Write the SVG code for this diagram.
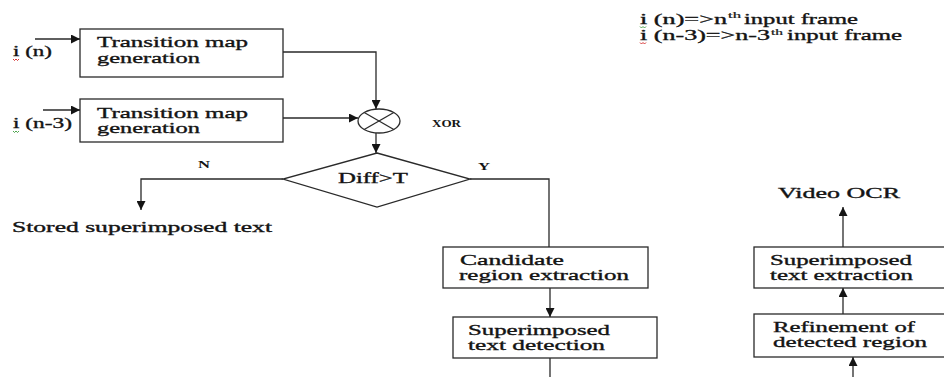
<svg xmlns="http://www.w3.org/2000/svg" width="944" height="377" viewBox="0 0 944 377">
<style>
text{font-family:'Liberation Serif','Times New Roman',Times,serif;fill:#141414;stroke:#141414;stroke-width:0.35;}
.t{font-size:15px;}
.s{font-size:11px;font-weight:bold;stroke-width:0;}
.sup{font-size:9px;stroke-width:0.2;}
.box{fill:#fff;stroke:#2a2a2a;stroke-width:1.3;}
.ln{fill:none;stroke:#2a2a2a;stroke-width:1.3;}
.sq{fill:none;stroke-width:0.9;}
</style>
<defs>
<marker id="ah" viewBox="0 0 10 10" refX="10" refY="5" markerWidth="9" markerHeight="9" markerUnits="userSpaceOnUse" orient="auto">
<path d="M0,0 L10,5 L0,10 Z" fill="#141414"/>
</marker>
</defs>
<rect width="944" height="377" fill="#fff"/>

<g id="legend">
<text class="t" x="640" y="24" textLength="87" lengthAdjust="spacingAndGlyphs">i (n)=&gt;n</text>
<text class="sup" x="728" y="18" textLength="13" lengthAdjust="spacingAndGlyphs">th</text>
<text class="t" x="744" y="24" textLength="114" lengthAdjust="spacingAndGlyphs">input frame</text>
<text class="t" x="640" y="40" textLength="130" lengthAdjust="spacingAndGlyphs">i (n-3)=&gt;n-3</text>
<text class="sup" x="771" y="35" textLength="12" lengthAdjust="spacingAndGlyphs">th</text>
<text class="t" x="787" y="40" textLength="115" lengthAdjust="spacingAndGlyphs">input frame</text>
<path class="sq" stroke="#3a9a3a" d="M640,26.5 l1.5,1.5 l1.5,-1.5 l1.5,1.5 l1.5,-1.5"/>
<path class="sq" stroke="#d02020" d="M640,42.5 l1.5,1.5 l1.5,-1.5 l1.5,1.5 l1.5,-1.5"/>
</g>

<g id="in1">
<text class="t" x="13" y="56" textLength="39" lengthAdjust="spacingAndGlyphs">i (n)</text>
<path class="sq" stroke="#d02020" d="M13,59 l1.5,1.5 l1.5,-1.5 l1.5,1.5 l1.5,-1.5"/>
</g>
<g id="in2">
<text class="t" x="13" y="128" textLength="59" lengthAdjust="spacingAndGlyphs">i (n-3)</text>
<path class="sq" stroke="#3a9a3a" d="M13,131 l1.5,1.5 l1.5,-1.5 l1.5,1.5 l1.5,-1.5"/>
</g>

<g id="tm1">
<rect class="box" x="80" y="29" width="203" height="48"/>
<text class="t" x="97" y="47" textLength="151" lengthAdjust="spacingAndGlyphs">Transition map</text>
<text class="t" x="97" y="63" textLength="103" lengthAdjust="spacingAndGlyphs">generation</text>
</g>
<g id="tm2">
<rect class="box" x="80" y="99" width="203" height="43"/>
<text class="t" x="97" y="118" textLength="151" lengthAdjust="spacingAndGlyphs">Transition map</text>
<text class="t" x="97" y="133" textLength="103" lengthAdjust="spacingAndGlyphs">generation</text>
</g>

<g id="xor">
<ellipse class="box" cx="379" cy="121" rx="21" ry="12"/>
<line class="ln" x1="364.2" y1="112.5" x2="393.8" y2="129.5"/>
<line class="ln" x1="364.2" y1="129.5" x2="393.8" y2="112.5"/>
<text class="s" x="432" y="127" textLength="29" lengthAdjust="spacingAndGlyphs">XOR</text>
</g>

<g id="diamond">
<polygon class="box" points="377,153 470,179 377,207 283,179"/>
<text class="t" x="338" y="183" font-size="16" textLength="70" lengthAdjust="spacingAndGlyphs">Diff&gt;T</text>
</g>

<g id="stored">
<text class="t" x="12" y="232" textLength="260" lengthAdjust="spacingAndGlyphs">Stored superimposed text</text>
</g>

<g id="cand">
<rect class="box" x="443" y="247" width="205" height="41"/>
<text class="t" x="460" y="265" textLength="104" lengthAdjust="spacingAndGlyphs">Candidate</text>
<text class="t" x="459" y="280" textLength="170" lengthAdjust="spacingAndGlyphs">region extraction</text>
</g>
<g id="detect">
<rect class="box" x="453" y="317" width="204" height="41"/>
<text class="t" x="468" y="335" textLength="142" lengthAdjust="spacingAndGlyphs">Superimposed</text>
<text class="t" x="468" y="350" textLength="137" lengthAdjust="spacingAndGlyphs">text detection</text>
</g>
<g id="extract">
<rect class="box" x="754" y="247" width="210" height="41"/>
<text class="t" x="770" y="265" textLength="142" lengthAdjust="spacingAndGlyphs">Superimposed</text>
<text class="t" x="770" y="280" textLength="143" lengthAdjust="spacingAndGlyphs">text extraction</text>
</g>
<g id="refine">
<rect class="box" x="754" y="314" width="210" height="43"/>
<text class="t" x="773" y="332" textLength="142" lengthAdjust="spacingAndGlyphs">Refinement of</text>
<text class="t" x="773" y="347" textLength="154" lengthAdjust="spacingAndGlyphs">detected region</text>
</g>
<g id="ocr">
<text class="t" x="778" y="198" textLength="122" lengthAdjust="spacingAndGlyphs">Video OCR</text>
</g>

<g id="connectors">
<line class="ln" x1="35" y1="39" x2="80" y2="39" marker-end="url(#ah)"/>
<line class="ln" x1="43" y1="110" x2="80" y2="110" marker-end="url(#ah)"/>
<polyline class="ln" points="283,52 376,52 376,109" marker-end="url(#ah)"/>
<line class="ln" x1="283" y1="118" x2="358" y2="118" marker-end="url(#ah)"/>
<line class="ln" x1="376" y1="133" x2="376" y2="153" marker-end="url(#ah)"/>
<polyline class="ln" points="283,179 141,179 141,210" marker-end="url(#ah)"/>
<polyline class="ln" points="470,179 549,179 549,247"/>
<line class="ln" x1="550" y1="288" x2="550" y2="317" marker-end="url(#ah)"/>
<line class="ln" x1="550" y1="358" x2="550" y2="377"/>
<line class="ln" x1="853" y1="377" x2="853" y2="357" marker-end="url(#ah)"/>
<line class="ln" x1="843" y1="314" x2="843" y2="288" marker-end="url(#ah)"/>
<line class="ln" x1="843" y1="247" x2="843" y2="207" marker-end="url(#ah)"/>
<text class="s" x="198" y="168" textLength="12" lengthAdjust="spacingAndGlyphs">N</text>
<text class="s" x="478" y="170" textLength="12" lengthAdjust="spacingAndGlyphs">Y</text>
</g>
</svg>
